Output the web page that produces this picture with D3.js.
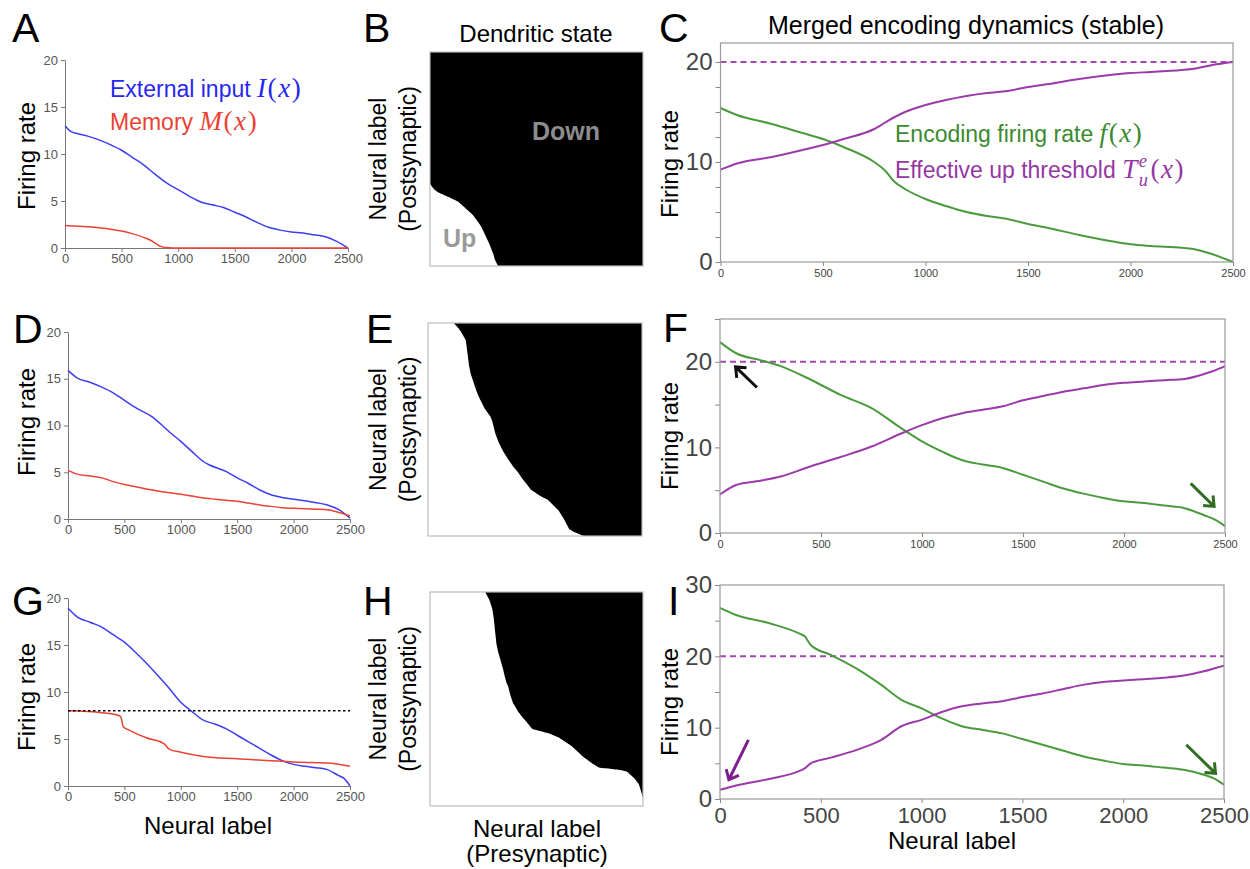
<!DOCTYPE html>
<html lang="en">
<head>
<meta charset="UTF-8">
<title>Dendritic state and merged encoding dynamics</title>
<script src="https://d3js.org/d3.v7.min.js"></script>
<style>
  body { margin: 0; background: #fff; }
  svg text { font-family: "Liberation Sans", Arial, Helvetica, sans-serif; }
  .small path, .small line { stroke: #777; }
  .small text { fill: #555; font-size: 13px; }
  .boxed line { stroke: #888; }
  .boxed text { fill: #444; }
  .frame { fill: none; stroke: #999; stroke-width: 1.2px; }
  .letter { font-size: 41px; fill: #000; }
  .label { fill: #000; }
</style>
</head>
<body>
<script>
const width = 1250, height = 869;
const serif = '"Liberation Serif", "Times New Roman", serif';

// shared tick values
const xTicks = [0, 500, 1000, 1500, 2000, 2500];
const inputTicks = [0, 5, 10, 15, 20];

// A: external input and memory
const aX = [0, 50, 100, 200, 300, 400, 500, 600, 700, 800, 900, 1000, 1100, 1200, 1300, 1400, 1500, 1600, 1700, 1800, 1900, 2000, 2100, 2200, 2300, 2400, 2500];
const aInput = [13.0, 12.4, 12.2, 11.9, 11.5, 11.0, 10.4, 9.6, 8.8, 7.8, 6.9, 6.2, 5.5, 4.9, 4.6, 4.3, 3.8, 3.3, 2.7, 2.2, 1.9, 1.7, 1.6, 1.4, 1.2, 0.7, 0.0];
const aMemX = [0, 200, 400, 500, 600, 700, 750, 800, 850, 900, 950, 1000, 2500];
const aMemory = [2.4, 2.25, 2.0, 1.8, 1.5, 1.1, 0.85, 0.5, 0.15, 0.05, 0.01, 0, 0];

// C: encoding rate and effective up threshold (stable)
const cX = [0, 80, 250, 400, 500, 600, 750, 800, 850, 900, 1000, 1100, 1200, 1300, 1400, 1500, 1600, 1750, 1900, 2000, 2100, 2250, 2300, 2400, 2500];
const cRate = [15.4, 14.7, 13.8, 12.9, 12.3, 11.5, 10.0, 9.2, 8.0, 7.3, 6.3, 5.6, 5.0, 4.6, 4.3, 3.8, 3.4, 2.7, 2.1, 1.77, 1.6, 1.43, 1.33, 0.77, 0.0];
const cThresh = [9.23, 9.85, 10.5, 11.2, 11.7, 12.3, 13.3, 13.9, 14.5, 15.0, 15.7, 16.2, 16.6, 16.9, 17.1, 17.5, 17.8, 18.3, 18.7, 18.9, 19.0, 19.2, 19.3, 19.7, 20.0];

// D: stronger input
const dX = [0, 80, 200, 300, 400, 500, 600, 750, 900, 1000, 1100, 1200, 1250, 1400, 1500, 1600, 1700, 1800, 1900, 2000, 2100, 2200, 2300, 2400, 2500];
const dInput = [15.9, 15.1, 14.6, 14.1, 13.5, 12.7, 11.9, 10.9, 9.3, 8.3, 7.2, 6.15, 5.8, 5.1, 4.4, 3.8, 3.1, 2.6, 2.3, 2.1, 1.95, 1.75, 1.5, 1.0, 0.1];
const dMemory = [5.2, 4.8, 4.6, 4.4, 4.0, 3.7, 3.45, 3.1, 2.8, 2.65, 2.45, 2.25, 2.2, 2.0, 1.9, 1.7, 1.5, 1.35, 1.2, 1.15, 1.1, 1.05, 1.0, 0.7, 0.35];

// F
const fX = [0, 80, 200, 300, 450, 600, 750, 900, 1000, 1100, 1200, 1300, 1400, 1500, 1600, 1700, 1800, 1900, 2000, 2100, 2200, 2300, 2400, 2450, 2500];
const fRate = [22.3, 21.0, 20.2, 19.5, 17.9, 16.1, 14.6, 12.2, 10.7, 9.5, 8.5, 8.0, 7.6, 6.8, 6.0, 5.2, 4.6, 4.1, 3.7, 3.5, 3.2, 2.9, 2.05, 1.55, 0.8];
const fThresh = [4.5, 5.6, 6.1, 6.6, 7.8, 8.9, 10.1, 11.65, 12.6, 13.4, 14.0, 14.4, 14.8, 15.5, 16.0, 16.5, 16.9, 17.3, 17.55, 17.7, 17.85, 18.0, 18.6, 19.0, 19.5];

// G: strongest input, memory capped
const gX = [0, 80, 200, 300, 400, 500, 600, 700, 800, 900, 1000, 1100, 1200, 1300, 1400, 1500, 1600, 1700, 1800, 1900, 2000, 2100, 2200, 2300, 2400, 2450, 2500];
const gInput = [18.9, 18.0, 17.4, 16.9, 16.1, 15.3, 14.2, 13.0, 11.7, 10.35, 8.9, 7.9, 7.0, 6.6, 6.1, 5.4, 4.7, 4.0, 3.3, 2.7, 2.3, 2.1, 1.95, 1.74, 1.1, 0.78, 0.0];
const gMemX = [0, 300, 450, 470, 490, 550, 700, 850, 900, 1000, 1200, 1500, 2000, 2300, 2500];
const gMemory = [8.0, 7.8, 7.5, 7.3, 6.3, 5.9, 5.1, 4.5, 3.9, 3.6, 3.15, 2.9, 2.55, 2.45, 2.1];
const gCap = 8;

// I
const iX = [0, 80, 250, 400, 420, 450, 550, 700, 800, 900, 1000, 1100, 1200, 1300, 1400, 1500, 1600, 1700, 1800, 1900, 2000, 2100, 2200, 2300, 2400, 2450, 2500];
const iRate = [26.8, 25.8, 24.6, 23.1, 22.8, 21.6, 20.2, 17.9, 16.0, 13.9, 12.7, 11.3, 10.2, 9.7, 9.2, 8.4, 7.6, 6.8, 6.0, 5.4, 4.9, 4.7, 4.4, 4.1, 3.4, 2.9, 2.0];
const iThresh = [1.3, 1.9, 2.85, 4.0, 4.3, 5.0, 5.8, 7.1, 8.3, 10.2, 11.1, 12.2, 13.0, 13.4, 13.7, 14.3, 14.8, 15.4, 16.0, 16.4, 16.6, 16.8, 17.0, 17.3, 17.9, 18.3, 18.7];

const upThreshold = 20;

// arrows, [neuron, rate] tail -> head
const fArrowBlack = [[183, 17.0], [77, 19.4]];
const fArrowGreen = [[2330, 5.8], [2446, 3.1]];
const iArrowPurple = [[141, 8.3], [44, 2.7]];
const iArrowGreen = [[2313, 7.6], [2458, 3.6]];

const blue = "#3d3df2", red = "#ea4234", green = "#4b9b3e", purple = "#9b3aa9";

const svg = d3.select("body").append("svg")
  .attr("width", width)
  .attr("height", height);

const line = (x, y, xs) => d3.line()
  .x((d, i) => x(xs[i]))
  .y(d => y(d))
  .curve(d3.curveMonotoneX);

// left column panels
function inputPanel(o) {
  const x = d3.scaleLinear().domain([0, 2500]).range([o.left, o.right]);
  const y = d3.scaleLinear().domain([0, 20]).range([o.bottom, o.top]);
  const g = svg.append("g");

  g.append("g").attr("class", "small")
    .attr("transform", `translate(0,${o.bottom})`)
    .call(d3.axisBottom(x).tickValues(xTicks).tickFormat(d3.format("d"))
      .tickSize(4).tickSizeOuter(0).tickPadding(2));
  g.append("g").attr("class", "small")
    .attr("transform", `translate(${o.left},0)`)
    .call(d3.axisLeft(y).tickValues(inputTicks).tickSize(4).tickSizeOuter(0).tickPadding(3));

  g.append("path").datum(o.input)
    .attr("d", line(x, y, o.inputX))
    .attr("fill", "none").attr("stroke", blue).attr("stroke-width", 1.5);
  g.append("path").datum(o.memory)
    .attr("d", line(x, y, o.memX))
    .attr("fill", "none").attr("stroke", red).attr("stroke-width", 1.5);

  g.append("text").attr("class", "label")
    .attr("transform", `translate(35,${o.labelY}) rotate(-90)`)
    .attr("text-anchor", "middle").attr("font-size", 24)
    .text("Firing rate");
  return { g, x, y };
}

// right column panels
function ratePanel(o) {
  const x = d3.scaleLinear().domain([0, 2500]).range([o.left, o.right]);
  const y = d3.scaleLinear().domain([0, o.ymax]).range([o.bottom, o.top]);
  const g = svg.append("g");

  const ax = g.append("g").attr("class", "boxed")
    .attr("transform", `translate(0,${o.bottom})`)
    .call(d3.axisBottom(x).tickValues(xTicks).tickFormat(d3.format("d"))
      .tickSize(4).tickSizeOuter(0).tickPadding(o.xPad));
  ax.selectAll("text").attr("font-size", o.xFont);
  const ay = g.append("g").attr("class", "boxed")
    .attr("transform", `translate(${o.left},0)`)
    .call(d3.axisLeft(y).tickValues(o.yTicks).tickSize(5).tickSizeOuter(0).tickPadding(3)
      .tickFormat(d => d % 10 === 0 ? d : ""));
  ay.selectAll("text").attr("font-size", 24);
  g.selectAll(".domain").remove();

  g.append("line")
    .attr("x1", x(0)).attr("x2", x(2500))
    .attr("y1", y(upThreshold)).attr("y2", y(upThreshold))
    .attr("stroke", "#a548b3").attr("stroke-width", 2).attr("stroke-dasharray", "6,4");

  g.append("path").datum(o.rate)
    .attr("d", line(x, y, o.xs))
    .attr("fill", "none").attr("stroke", green).attr("stroke-width", 2);
  g.append("path").datum(o.thresh)
    .attr("d", line(x, y, o.xs))
    .attr("fill", "none").attr("stroke", purple).attr("stroke-width", 2);

  g.append("rect").attr("class", "frame")
    .attr("x", o.left).attr("y", o.top)
    .attr("width", o.right - o.left).attr("height", o.bottom - o.top);

  g.append("text").attr("class", "label")
    .attr("transform", `translate(678,${o.labelY}) rotate(-90)`)
    .attr("text-anchor", "middle").attr("font-size", 24)
    .text("Firing rate");
  return { g, x, y };
}

// dendritic state: up where f(pre) exceeds T(post)
function statePanel(o) {
  const pre = d3.scaleLinear().domain([0, 2500]).range([o.left, o.right]);
  const post = d3.scaleLinear().domain([0, 2500]).range([o.bottom, o.top]);
  const fOf = d3.scaleLinear().domain(o.xs).range(o.rate).clamp(true);
  const tOf = d3.scaleLinear().domain(o.xs).range(o.thresh);
  const g = svg.append("g");

  const area = d3.area()
    .y(d => post(d))
    .x0(d => pre(fOf.invert(tOf(d))))
    .x1(pre(2500))
    .curve(d3.curveBasis);
  g.append("path").datum(d3.range(0, 2501, 5))
    .attr("d", area).attr("fill", "#000");
  g.append("rect")
    .attr("x", o.left).attr("y", o.top)
    .attr("width", o.right - o.left).attr("height", o.bottom - o.top)
    .attr("fill", "none").attr("stroke", "#bbb").attr("stroke-width", 1.2);

  const cy = (o.top + o.bottom) / 2;
  g.append("text").attr("class", "label")
    .attr("transform", `translate(386,${cy}) rotate(-90)`)
    .attr("text-anchor", "middle").attr("font-size", 23).text("Neural label");
  g.append("text").attr("class", "label")
    .attr("transform", `translate(416,${cy}) rotate(-90)`)
    .attr("text-anchor", "middle").attr("font-size", 23).text("(Postsynaptic)");
  return g;
}

function arrow(p, pts, color) {
  const [x1, y1] = [p.x(pts[0][0]), p.y(pts[0][1])];
  const [x2, y2] = [p.x(pts[1][0]), p.y(pts[1][1])];
  const a = Math.atan2(y2 - y1, x2 - x1), L = 11, s = Math.PI / 4.5;
  p.g.append("path")
    .attr("d", `M${x1},${y1}L${x2},${y2}`
      + `M${x2 - L * Math.cos(a - s)},${y2 - L * Math.sin(a - s)}L${x2},${y2}`
      + `L${x2 - L * Math.cos(a + s)},${y2 - L * Math.sin(a + s)}`)
    .attr("fill", "none").attr("stroke", color).attr("stroke-width", 3);
}

// text with math parts
function richText(x, y, size, color, parts) {
  const t = svg.append("text").attr("x", x).attr("y", y)
    .attr("font-size", size).attr("fill", color);
  const ms = size * 1.18;
  let prev = null;
  parts.forEach(p => {
    const s = t.append("tspan").text(p.t);
    if (p.math) {
      s.style("font-family", serif).attr("font-style", p.it ? "italic" : "normal")
        .attr("font-size", ms).attr("letter-spacing", 1.5);
    }
    if (p.sup) s.attr("font-size", ms * 0.68).attr("dy", -ms * 0.4);
    if (p.sub) {
      s.attr("font-size", ms * 0.68).attr("dy", ms * 0.68)
        .attr("dx", -prev.node().getComputedTextLength());
    }
    if (p.back) s.attr("dy", -ms * 0.28).attr("dx", 1);
    prev = s;
  });
}

// ---- row 1
inputPanel({ left: 65, right: 348, top: 60, bottom: 248, labelY: 156,
  inputX: aX, input: aInput, memX: aMemX, memory: aMemory });
richText(110, 97, 23, "#2727f0", [
  { t: "External input " }, { t: "I", math: true, it: true },
  { t: "(", math: true }, { t: "x", math: true, it: true }, { t: ")", math: true }]);
richText(110, 130, 23, red, [
  { t: "Memory " }, { t: "M", math: true, it: true },
  { t: "(", math: true }, { t: "x", math: true, it: true }, { t: ")", math: true }]);

statePanel({ left: 430, right: 643, top: 52, bottom: 266, xs: cX, rate: cRate, thresh: cThresh });
svg.append("text").attr("x", 536).attr("y", 42).attr("text-anchor", "middle")
  .attr("font-size", 24).attr("class", "label").text("Dendritic state");
svg.append("text").attr("x", 532).attr("y", 140).attr("font-size", 25)
  .attr("font-weight", "bold").attr("fill", "#8c8c8c").text("Down");
svg.append("text").attr("x", 443).attr("y", 247).attr("font-size", 25)
  .attr("font-weight", "bold").attr("fill", "#9a9a9a").text("Up");

ratePanel({ left: 720.5, right: 1233, top: 43, bottom: 262, ymax: 21.9,
  yTicks: [0, 2.5, 5, 7.5, 10, 12.5, 15, 17.5, 20], xFont: 11, xPad: 3, labelY: 164,
  xs: cX, rate: cRate, thresh: cThresh });
svg.append("text").attr("x", 966).attr("y", 34).attr("text-anchor", "middle")
  .attr("font-size", 25).attr("class", "label").text("Merged encoding dynamics (stable)");
richText(895, 142, 23, "#3b8a2f", [
  { t: "Encoding firing rate " }, { t: "f", math: true, it: true },
  { t: "(", math: true }, { t: "x", math: true, it: true }, { t: ")", math: true }]);
richText(895, 178, 23, "#9537a3", [
  { t: "Effective up threshold " }, { t: "T", math: true, it: true },
  { t: "e", math: true, it: true, sup: true }, { t: "u", math: true, it: true, sub: true },
  { t: "(", math: true, back: true }, { t: "x", math: true, it: true }, { t: ")", math: true }]);

// ---- row 2
inputPanel({ left: 68, right: 350, top: 332, bottom: 519, labelY: 422,
  inputX: dX, input: dInput, memX: dX, memory: dMemory });
statePanel({ left: 428, right: 642, top: 323, bottom: 536, xs: fX, rate: fRate, thresh: fThresh });
const pF = ratePanel({ left: 720, right: 1225, top: 319, bottom: 533, ymax: 25,
  yTicks: [0, 5, 10, 15, 20, 25], xFont: 11, xPad: 3, labelY: 436,
  xs: fX, rate: fRate, thresh: fThresh });
arrow(pF, fArrowBlack, "#111");
arrow(pF, fArrowGreen, "#2f6e22");

// ---- row 3
const pG = inputPanel({ left: 68, right: 350, top: 598, bottom: 786, labelY: 697,
  inputX: gX, input: gInput, memX: gMemX, memory: gMemory });
pG.g.append("line")
  .attr("x1", pG.x(0)).attr("x2", pG.x(2500))
  .attr("y1", pG.y(gCap)).attr("y2", pG.y(gCap))
  .attr("stroke", "#000").attr("stroke-width", 1.6).attr("stroke-dasharray", "2.5,2.5");
svg.append("text").attr("x", 208).attr("y", 834).attr("text-anchor", "middle")
  .attr("font-size", 24).attr("class", "label").text("Neural label");

statePanel({ left: 430, right: 643, top: 592, bottom: 806, xs: iX, rate: iRate, thresh: iThresh });
svg.append("text").attr("x", 537).attr("y", 837).attr("text-anchor", "middle")
  .attr("font-size", 24).attr("class", "label").text("Neural label");
svg.append("text").attr("x", 537).attr("y", 862).attr("text-anchor", "middle")
  .attr("font-size", 24).attr("class", "label").text("(Presynaptic)");

const pI = ratePanel({ left: 720, right: 1224, top: 585, bottom: 799, ymax: 30,
  yTicks: [0, 5, 10, 15, 20, 25, 30], xFont: 22, xPad: 4, labelY: 702,
  xs: iX, rate: iRate, thresh: iThresh });
arrow(pI, iArrowPurple, "#7e1f8e");
arrow(pI, iArrowGreen, "#2f6e22");
svg.append("text").attr("x", 952).attr("y", 849).attr("text-anchor", "middle")
  .attr("font-size", 24).attr("class", "label").text("Neural label");

// panel letters
const letters = [["A", 12, 42], ["B", 363, 42], ["C", 659, 42],
  ["D", 13, 343], ["E", 366, 343], ["F", 663, 342],
  ["G", 12, 615], ["H", 363, 615], ["I", 668, 615]];
svg.selectAll(".letter").data(letters).join("text")
  .attr("class", "letter")
  .attr("x", d => d[1]).attr("y", d => d[2])
  .text(d => d[0]);
</script>
</body>
</html>
